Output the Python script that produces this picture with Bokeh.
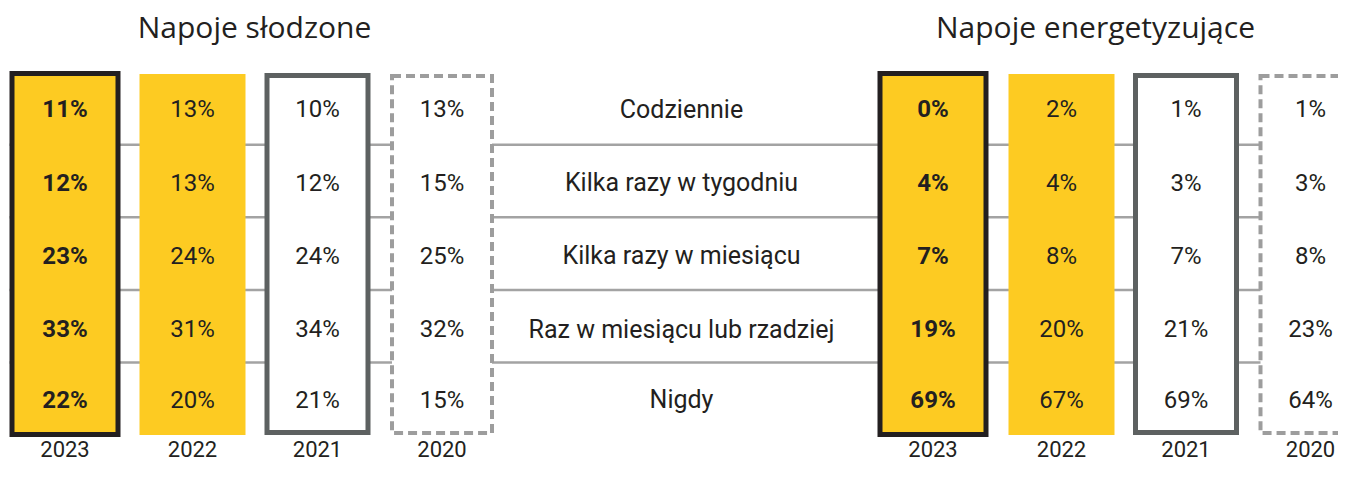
from bokeh.plotting import figure
from bokeh.models import Range1d, ColumnDataSource
from bokeh.core.properties import value
from bokeh.embed import file_html
from bokeh.resources import INLINE

# ---------------- data ----------------
categories = ["Codziennie", "Kilka razy w tygodniu", "Kilka razy w miesiącu",
              "Raz w miesiącu lub rzadziej", "Nigdy"]
years = ["2023", "2022", "2021", "2020"]
group_titles = ["Napoje słodzone", "Napoje energetyzujące"]

slodzone_2023 = [11, 12, 23, 33, 22]
slodzone_2022 = [13, 13, 24, 31, 20]
slodzone_2021 = [10, 12, 24, 34, 21]
slodzone_2020 = [13, 15, 25, 32, 15]

energetyzujace_2023 = [0, 4, 7, 19, 69]
energetyzujace_2022 = [2, 4, 8, 20, 67]
energetyzujace_2021 = [1, 3, 7, 21, 69]
energetyzujace_2020 = [1, 3, 8, 23, 64]

groups = [
    [slodzone_2023, slodzone_2022, slodzone_2021, slodzone_2020],
    [energetyzujace_2023, energetyzujace_2022, energetyzujace_2021, energetyzujace_2020],
]

# ---------------- layout (pixel space) ----------------
W, H = 1338, 463
group_col_x = [[64.5, 192, 317, 441.5], [932.5, 1061, 1185.5, 1310]]
group_title_x = [254, 1095]
title_y = 27
row_y = [111, 186, 260, 335, 407]
sep_y = [147, 221, 295, 369]
sep_x = (9, 1354)
label_x = 681
year_y = 457

YELLOW = "#fdcb22"
DARK = "#231f20"
# per-year box styles: fill, line color, line width, dash, outer half width, outer top, outer bottom
styles = [
    dict(fill=YELLOW, line=DARK, lw=5, dash="solid", hw=55.5, top=72, bot=445),
    dict(fill=YELLOW, line=None, lw=0, dash="solid", hw=53, top=75, bot=443),
    dict(fill="white", line="#5d6161", lw=5, dash="solid", hw=53, top=74, bot=443),
    dict(fill="white", line="#9d9d9d", lw=4, dash="9 5", hw=52, top=75, bot=443),
]

p = figure(width=W, height=H, x_range=Range1d(0, W), y_range=Range1d(472, 0),
           output_backend="svg", toolbar_location=None, min_border=0)
p.axis.visible = False
p.grid.visible = False
p.outline_line_color = None
p.background_fill_color = "white"
p.border_fill_color = "white"

# separator lines
p.segment(x0=[sep_x[0]] * len(sep_y), x1=[sep_x[1]] * len(sep_y), y0=sep_y, y1=sep_y,
          line_color="#a3a3a3", line_width=2.5)

# boxes
for g, series in enumerate(groups):
    for i, vals in enumerate(series):
        st = styles[i]
        cx = group_col_x[g][i]
        inset = st["lw"] / 2
        p.quad(left=[cx - st["hw"] + inset], right=[cx + st["hw"] - inset],
               top=[st["top"] + inset], bottom=[st["bot"] - inset],
               fill_color=st["fill"], line_color=st["line"], line_width=max(st["lw"], 0.01),
               line_dash=st["dash"], line_join="miter")
        src = ColumnDataSource(dict(x=[cx] * len(vals), y=row_y, t=[f"{v}%" for v in vals]))
        p.text(x="x", y="y", text="t", source=src, text_align="center", text_baseline="middle",
               text_font=value("Roboto"), text_font_size="24px",
               text_font_style="bold" if i == 0 else "normal", text_color=DARK)
        p.text(x=[cx], y=[year_y], text=[years[i]], text_align="center", text_baseline="middle",
               text_font=value("Roboto"), text_font_size="22px", text_color=DARK)
    p.text(x=[group_title_x[g]], y=[title_y], text=[group_titles[g]], text_align="center",
           text_baseline="middle", text_font=value("Open Sans"), text_font_size="30px",
           text_color=DARK)

# middle category labels
p.text(x=[label_x] * len(categories), y=row_y, text=categories, text_align="center",
       text_baseline="middle", text_font=value("Roboto"), text_font_size="25px",
       text_color=DARK)

open("out.html", "w").write(file_html(p, INLINE))
